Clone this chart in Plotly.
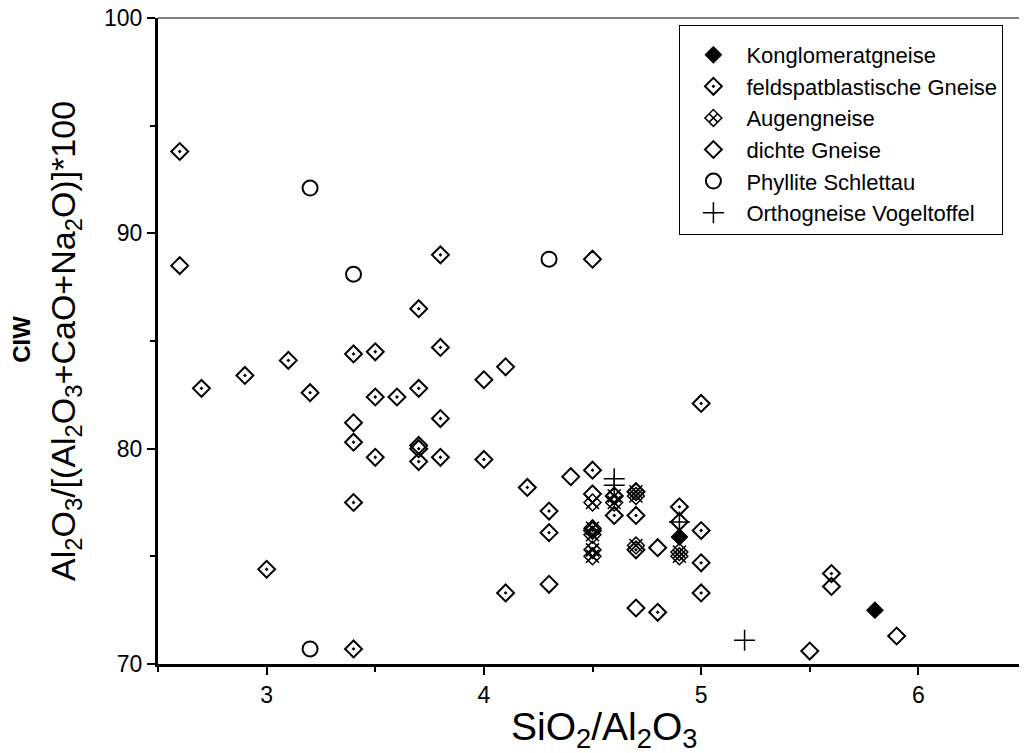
import plotly.graph_objects as go

# Konglomeratgneise
kong_x = [4.9, 5.8]
kong_y = [75.9, 72.5]

# feldspatblastische Gneise
feld_x = [2.6, 2.7, 2.9, 3.0, 3.1, 3.2, 3.4, 3.4, 3.4, 3.4, 3.5, 3.5, 3.5, 3.6, 3.7, 3.7, 3.7, 3.7,
          3.8, 3.8, 3.8, 3.8, 4.0, 4.1, 4.2, 4.3, 4.3, 4.5, 4.5, 4.6, 4.7, 4.7, 4.7, 4.8, 4.9,
          5.0, 5.0, 5.0, 5.0, 5.6]
feld_y = [93.8, 82.8, 83.4, 74.4, 84.1, 82.6, 84.4, 80.3, 77.5, 70.7, 84.5, 82.4, 79.6, 82.4, 86.5, 82.8, 80.0, 79.4,
          89.0, 84.7, 81.4, 79.6, 79.5, 73.3, 78.2, 77.1, 76.1, 79.0, 76.2, 76.9, 78.0, 76.9, 75.3, 72.4, 77.3,
          82.1, 76.2, 74.7, 73.3, 74.2]

# Augengneise
aug_x = [4.5, 4.5, 4.5, 4.5, 4.5, 4.6, 4.6, 4.7, 4.7, 4.7, 4.9, 4.9]
aug_y = [77.5, 76.3, 76.0, 75.3, 75.0, 77.8, 77.5, 78.0, 77.8, 75.5, 75.2, 75.0]

# dichte Gneise
dicht_x = [2.6, 3.4, 3.7, 4.0, 4.1, 4.3, 4.4, 4.5, 4.5, 4.6, 4.7, 4.8, 4.9, 5.5, 5.6, 5.9]
dicht_y = [88.5, 81.2, 80.15, 83.2, 83.8, 73.7, 78.7, 88.8, 77.9, 77.8, 72.6, 75.4, 76.6, 70.6, 73.6, 71.3]

# Phyllite Schlettau
phyl_x = [3.2, 3.4, 4.3, 3.2]
phyl_y = [92.1, 88.1, 88.8, 70.7]

# Orthogneise Vogeltoffel
ortho_x = [4.6, 4.6, 4.9, 5.2]
ortho_y = [78.6, 78.3, 76.6, 71.1]

BLACK = "black"
fig = go.Figure()

fig.add_trace(go.Scatter(
    x=kong_x, y=kong_y, mode="markers", name="Konglomeratgneise",
    marker=dict(symbol="diamond", size=13, color=BLACK, line=dict(color=BLACK, width=1)),
))
fig.add_trace(go.Scatter(
    x=feld_x, y=feld_y, mode="markers", name="feldspatblastische Gneise",
    marker=dict(symbol="diamond-open-dot", size=13, color=BLACK, line=dict(color=BLACK, width=2)),
))
fig.add_trace(go.Scatter(
    x=aug_x, y=aug_y, mode="markers", name="Augengneise",
    marker=dict(symbol="diamond-x-open", size=13, color=BLACK, line=dict(color=BLACK, width=1.5)),
))
# the X arms of the Augengneise symbol reach past the diamond
fig.add_trace(go.Scatter(
    x=aug_x, y=aug_y, mode="markers", name="Augengneise", showlegend=False,
    marker=dict(symbol="x-thin-open", size=13, color=BLACK, line=dict(color=BLACK, width=1.5)),
))
fig.add_trace(go.Scatter(
    x=dicht_x, y=dicht_y, mode="markers", name="dichte Gneise",
    marker=dict(symbol="diamond-open", size=13, color=BLACK, line=dict(color=BLACK, width=2)),
))
fig.add_trace(go.Scatter(
    x=phyl_x, y=phyl_y, mode="markers", name="Phyllite Schlettau",
    marker=dict(symbol="circle-open", size=15, color=BLACK, line=dict(color=BLACK, width=2)),
))
fig.add_trace(go.Scatter(
    x=ortho_x, y=ortho_y, mode="markers", name="Orthogneise Vogeltoffel",
    marker=dict(symbol="cross-thin-open", size=15, color=BLACK, line=dict(color=BLACK, width=1.5)),
))

font = "Liberation Sans, Arial, sans-serif"

# page body adds an 8px margin, so the figure is sized to the remaining window
fig.update_layout(
    width=1019, height=745,
    paper_bgcolor="white", plot_bgcolor="white",
    font=dict(family=font, color=BLACK, size=23),
    margin=dict(l=150, r=0, t=10, b=89),
    showlegend=True,
    legend=dict(
        x=0.6, y=0.989, xanchor="left", yanchor="top",
        bordercolor=BLACK, borderwidth=1, bgcolor="white",
        font=dict(size=22, family=font), itemwidth=56, tracegroupgap=0,
        # blank title only adds a little top padding
        title=dict(text=" ", font=dict(size=6)),
    ),
    xaxis=dict(
        range=[2.5, 6.5], tick0=3, dtick=1, showgrid=False, zeroline=False, automargin=False,
        showline=True, linecolor=BLACK, linewidth=3,
        ticks="outside", ticklen=8, tickwidth=2, tickcolor=BLACK,
        tickfont=dict(size=23),
        minor=dict(dtick=0.5, ticks="outside", ticklen=5, tickwidth=2, tickcolor=BLACK),
    ),
    yaxis=dict(
        range=[70, 100], tick0=70, dtick=10, showgrid=False, zeroline=False, automargin=False,
        showline=True, linecolor=BLACK, linewidth=3,
        ticks="outside", ticklen=8, tickwidth=2, tickcolor=BLACK,
        tickfont=dict(size=23), ticklabeloverflow="allow",
    ),
    annotations=[
        dict(text="SiO<sub>2</sub>/Al<sub>2</sub>O<sub>3</sub>", xref="paper", yref="paper",
             x=0.513, y=-0.102, xanchor="center", yanchor="middle", showarrow=False,
             font=dict(size=39)),
        dict(text="<b>CIW</b>", xref="paper", yref="paper", x=-0.1565, y=0.502,
             xanchor="center", yanchor="middle", textangle=-90, showarrow=False,
             font=dict(size=24)),
        dict(text="Al<sub>2</sub>O<sub>3</sub>/[(Al<sub>2</sub>O<sub>3</sub>+CaO+Na<sub>2</sub>O)]*100",
             xref="paper", yref="paper", x=-0.107, y=0.5,
             xanchor="center", yanchor="middle", textangle=-90, showarrow=False,
             font=dict(size=34)),
    ],
    shapes=[dict(type="line", xref="paper", yref="paper", x0=0, x1=1, y0=1, y1=1,
                 line=dict(color=BLACK, width=1))],
)
fig.update_yaxes(minor=dict(dtick=5, ticks="outside", ticklen=5, tickwidth=2, tickcolor=BLACK))

fig.write_html("out.html")
